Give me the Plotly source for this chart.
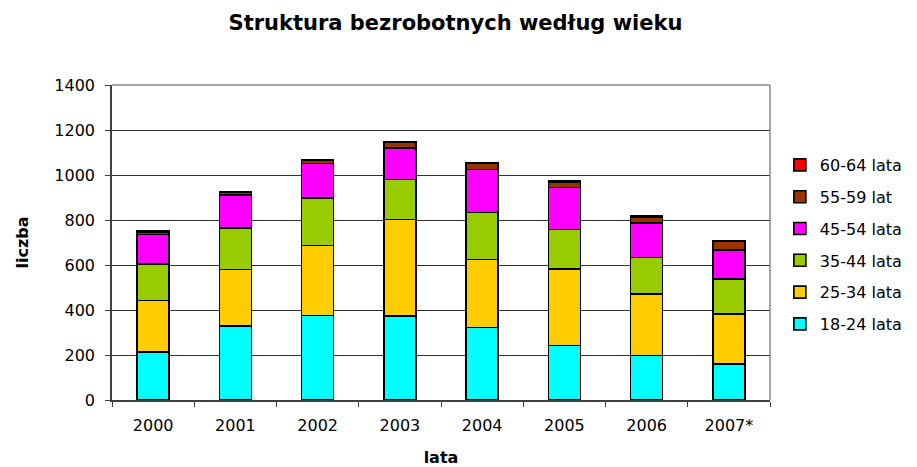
import plotly.graph_objects as go

years = ["2000", "2001", "2002", "2003", "2004", "2005", "2006", "2007*"]
series_names = ["18-24 lata", "25-34 lata", "35-44 lata", "45-54 lata", "55-59 lat", "60-64 lata"]
v18_24 = [214, 329, 375, 374, 323, 243, 197, 160]
v25_34 = [228, 251, 312, 428, 302, 339, 275, 223]
v35_44 = [162, 185, 212, 178, 209, 176, 161, 154]
v45_54 = [132, 147, 153, 140, 190, 186, 153, 131]
v55_59 = [12, 13, 12, 25, 27, 25, 28, 36]
v60_64 = [2, 2, 2, 3, 5, 6, 5, 2]
values = [v18_24, v25_34, v35_44, v45_54, v55_59, v60_64]
colors = ["#00FFFF", "#FFCC00", "#99CC00", "#FF00FF", "#993300", "#FF0000"]

fig = go.Figure()
n = len(series_names)
for i, (name, vals, col) in enumerate(zip(series_names, values, colors)):
    fig.add_trace(go.Bar(x=years, y=vals, name=name, legendgroup=name, legendrank=1000 - i,
                         marker=dict(color=col, line=dict(color="black", width=1.6))))

font = "DejaVu Sans, Liberation Sans, Arial, sans-serif"
fig.update_layout(
    barmode="stack",
    bargap=0.61,
    width=917, height=467,
    margin=dict(l=104, r=155, t=77, b=75),
    paper_bgcolor="white", plot_bgcolor="white",
    font=dict(family=font, size=16, color="black"),
    title=dict(text="<b>Struktura bezrobotnych według wieku</b>", x=0.488, xanchor="center",
               y=0.985, yanchor="top", font=dict(size=21, family=font)),
    legend=dict(traceorder="grouped", x=1.015, xanchor="left", y=0.80, yanchor="top",
                font=dict(size=16), tracegroupgap=8, itemwidth=30),
    showlegend=True,
)
fig.update_xaxes(showline=True, linecolor="#404040", linewidth=1.5, ticks="outside",
                 tickson="boundaries", ticklen=5, tickcolor="#404040", ticklabelstandoff=10,
                 title=dict(text="<b>lata</b>", font=dict(size=16), standoff=18),
                 tickfont=dict(size=16))
fig.update_yaxes(range=[0, 1400], dtick=200, showline=True, linecolor="#404040", linewidth=1.5,
                 ticks="outside", ticklen=5, tickcolor="#404040", ticklabelstandoff=7,
                 showgrid=True, gridcolor="#333333", gridwidth=1,
                 title=dict(text="<b>liczba</b>", font=dict(size=16), standoff=22),
                 tickfont=dict(size=16))
fig.add_shape(type="line", xref="paper", yref="paper", x0=0, x1=1, y0=1, y1=1,
              line=dict(color="#888888", width=1.5))
fig.add_shape(type="line", xref="paper", yref="paper", x0=1, x1=1, y0=0, y1=1,
              line=dict(color="#888888", width=1.5))
fig.write_html("out.html")
